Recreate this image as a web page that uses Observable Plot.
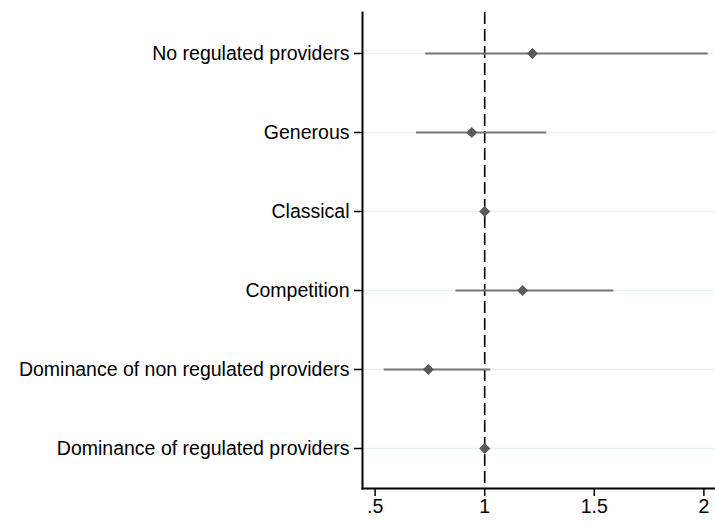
<!DOCTYPE html>
<html>
<head>
<meta charset="utf-8">
<script src="https://cdn.jsdelivr.net/npm/d3@7"></script>
<script src="https://cdn.jsdelivr.net/npm/@observablehq/plot@0.6"></script>
<style>
  html, body { margin: 0; padding: 0; background: #fff; }
  svg { font-family: Arial, "Liberation Sans", sans-serif; }
</style>
</head>
<body>
<div id="chart"></div>
<script>
const categories = [
  "No regulated providers",
  "Generous",
  "Classical",
  "Competition",
  "Dominance of non regulated providers",
  "Dominance of regulated providers"
];
const estimates = [1.218, 0.941, 1.0, 1.173, 0.743, 1.0];
const lower = [0.731, 0.689, 1.0, 0.869, 0.541, 1.0];
const upper = [2.02, 1.283, 1.0, 1.59, 1.028, 1.0];
const xTicks = [0.5, 1, 1.5, 2];
const xTickLabels = [".5", "1", "1.5", "2"];

const rows = categories.map((c, i) => ({cat: c, est: estimates[i], lo: lower[i], hi: upper[i]}));
const xDomain = [0.4425, 2.053];

const chart = Plot.plot({
  width: 715,
  height: 522,
  marginTop: 12,
  marginBottom: 34,
  marginLeft: 362,
  marginRight: 0,
  style: {fontSize: "19.5px", fontFamily: "Arial, 'Liberation Sans', sans-serif", color: "#000"},
  x: {domain: xDomain},
  y: {type: "point", domain: categories, padding: 0.5},
  marks: [
    Plot.ruleY(rows, {y: "cat", x1: xDomain[0], x2: xDomain[1], stroke: "#e8f0f2", strokeWidth: 1.5}),
    Plot.ruleX([1], {stroke: "#000", strokeWidth: 1.6, strokeDasharray: "12,5"}),
    Plot.ruleY(rows.filter(d => d.hi > d.lo), {y: "cat", x1: "lo", x2: "hi", stroke: "#767676", strokeWidth: 1.8}),
    Plot.dot(rows, {y: "cat", x: "est", symbol: "diamond2", r: 5, fill: "#5a5a5a", stroke: "none"}),
    Plot.axisX({ticks: xTicks, tickFormat: (d) => xTickLabels[xTicks.indexOf(d)], tickSize: 8, tickPadding: 3, label: null, stroke: "#000", strokeWidth: 1.5, fontSize: 19.5}),
    Plot.axisY({tickSize: 8, tickPadding: 5, label: null, stroke: "#000", strokeWidth: 1.5, fontSize: 19.5}),
    Plot.frame({anchor: "bottom", stroke: "#000", strokeWidth: 2}),
    Plot.frame({anchor: "left", stroke: "#000", strokeWidth: 2})
  ]
});
document.getElementById("chart").appendChild(chart);
</script>
</body>
</html>
